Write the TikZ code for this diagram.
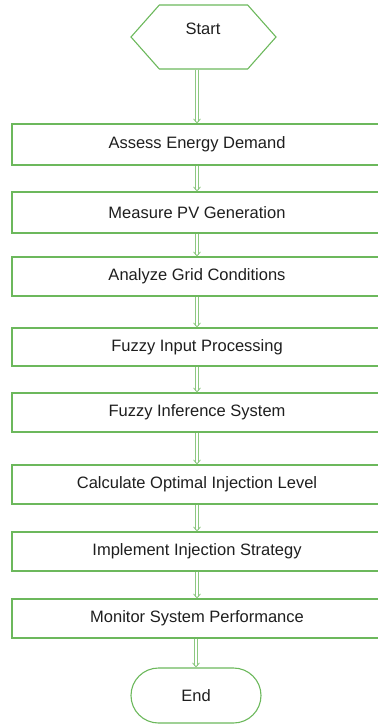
\documentclass[tikz,border=0pt]{standalone}
\usepackage{fontspec}
\setmainfont{Liberation Sans}
\usepackage{tikz}
\usetikzlibrary{arrows.meta}
\usetikzlibrary{shapes.symbols,shapes.misc,positioning}
\definecolor{fcgreen}{RGB}{108,184,92}
\definecolor{fclight}{RGB}{140,200,128}
\definecolor{fctext}{RGB}{30,30,30}
\begin{document}
\begin{tikzpicture}[x=1pt,y=-1pt,
    fc/.style={draw=fcgreen,line width=1.1pt,text=fctext,font=\fontsize{16.5}{19}\selectfont,inner sep=0pt},
    stepbox/.style={fc,rectangle,minimum width=370pt,minimum height=39pt},
    link/.style={draw=fclight,double=white,double distance=1.8pt,line width=0.8pt,
        -{Straight Barb[length=4pt,width=7pt]}}]
    \useasboundingbox (0,0) rectangle (378,724);
    \clip (0,0) rectangle (378,724);
    % start and end
    \node[fc,signal,signal to=west and east,signal pointer angle=97,
        minimum width=145pt,minimum height=64pt] (s) at (203.5,37) {};
    \node[fctext,font=\fontsize{16.5}{19}\selectfont] at (203,29) {Start};
    % process steps
    \node[stepbox,minimum height=41pt] (1) at (197,144.5) {Assess Energy Demand};
    \node[stepbox,minimum height=41pt] (2) at (197,212.5) {Measure PV Generation};
    \node[stepbox] (3) at (197,276.5) {Analyze Grid Conditions};
    \node[stepbox,minimum height=38pt] (4) at (197,347) {Fuzzy Input Processing};
    \node[stepbox] (5) at (197,412.5) {Fuzzy Inference System};
    \node[stepbox] (6) at (197,484.5) {Calculate Optimal Injection Level};
    \node[stepbox] (7) at (197,551.5) {Implement Injection Strategy};
    \node[stepbox] (8) at (197,618.5) {Monitor System Performance};
    \node[fc,rounded rectangle,minimum width=130pt,minimum height=55pt] (e) at (196,695.5) {End};
    % arrows
    \draw[link] (s.south -| 1.north) -- (1.north);
    \foreach \X [count=\Y] in {2,...,8} \draw[link] (\Y.south) -- (\X.north);
    \draw[link] (8.south -| e.north) -- (e.north);
\end{tikzpicture}
\end{document}
